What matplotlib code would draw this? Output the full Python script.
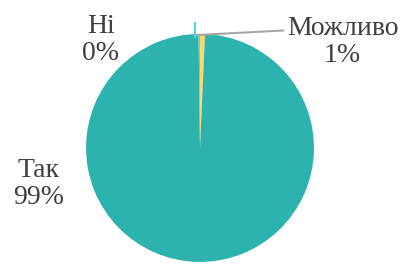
import matplotlib.pyplot as plt

# data, clockwise from 12 o'clock
labels = ["Можливо", "Так", "Ні"]
values = [0.7, 99.1, 0.2]
pct_text = ["1%", "99%", "0%"]
colors = ["#FFD966", "#2DB3AE", "#4DD8E6"]

plt.rcParams["font.family"] = ["Liberation Serif", "DejaVu Serif"]

fig = plt.figure(figsize=(4.02, 2.67), dpi=100)
ax = fig.add_axes([0.214, 0.019, 0.567, 0.854])
wedges, _ = ax.pie(values, colors=colors, startangle=90, counterclock=False,
                   radius=1, wedgeprops=dict(linewidth=0))
ax.set_xlim(-1, 1)
ax.set_ylim(-1, 1)
ax.set_aspect("auto")
ax.axis("off")

txt_color = "#404040"
pos = {"Можливо": (1.25, 0.93), "Так": (-1.42, -0.32), "Ні": (-0.87, 0.95)}
for lab, p in zip(labels, pct_text):
    x, y = pos[lab]
    ax.text(x, y, lab + "\n" + p, ha="center", va="center", fontsize=20,
            color=txt_color, linespacing=1.1, clip_on=False)

# leader lines
ax.plot([-0.03, 0.73], [0.99, 1.03], color="#A6A6A6", lw=1.5, clip_on=False)
ax.plot([-0.045, -0.045], [0.97, 1.10], color="#4DD8E6", lw=1.5, clip_on=False)

fig.savefig("out.png", dpi=100)
